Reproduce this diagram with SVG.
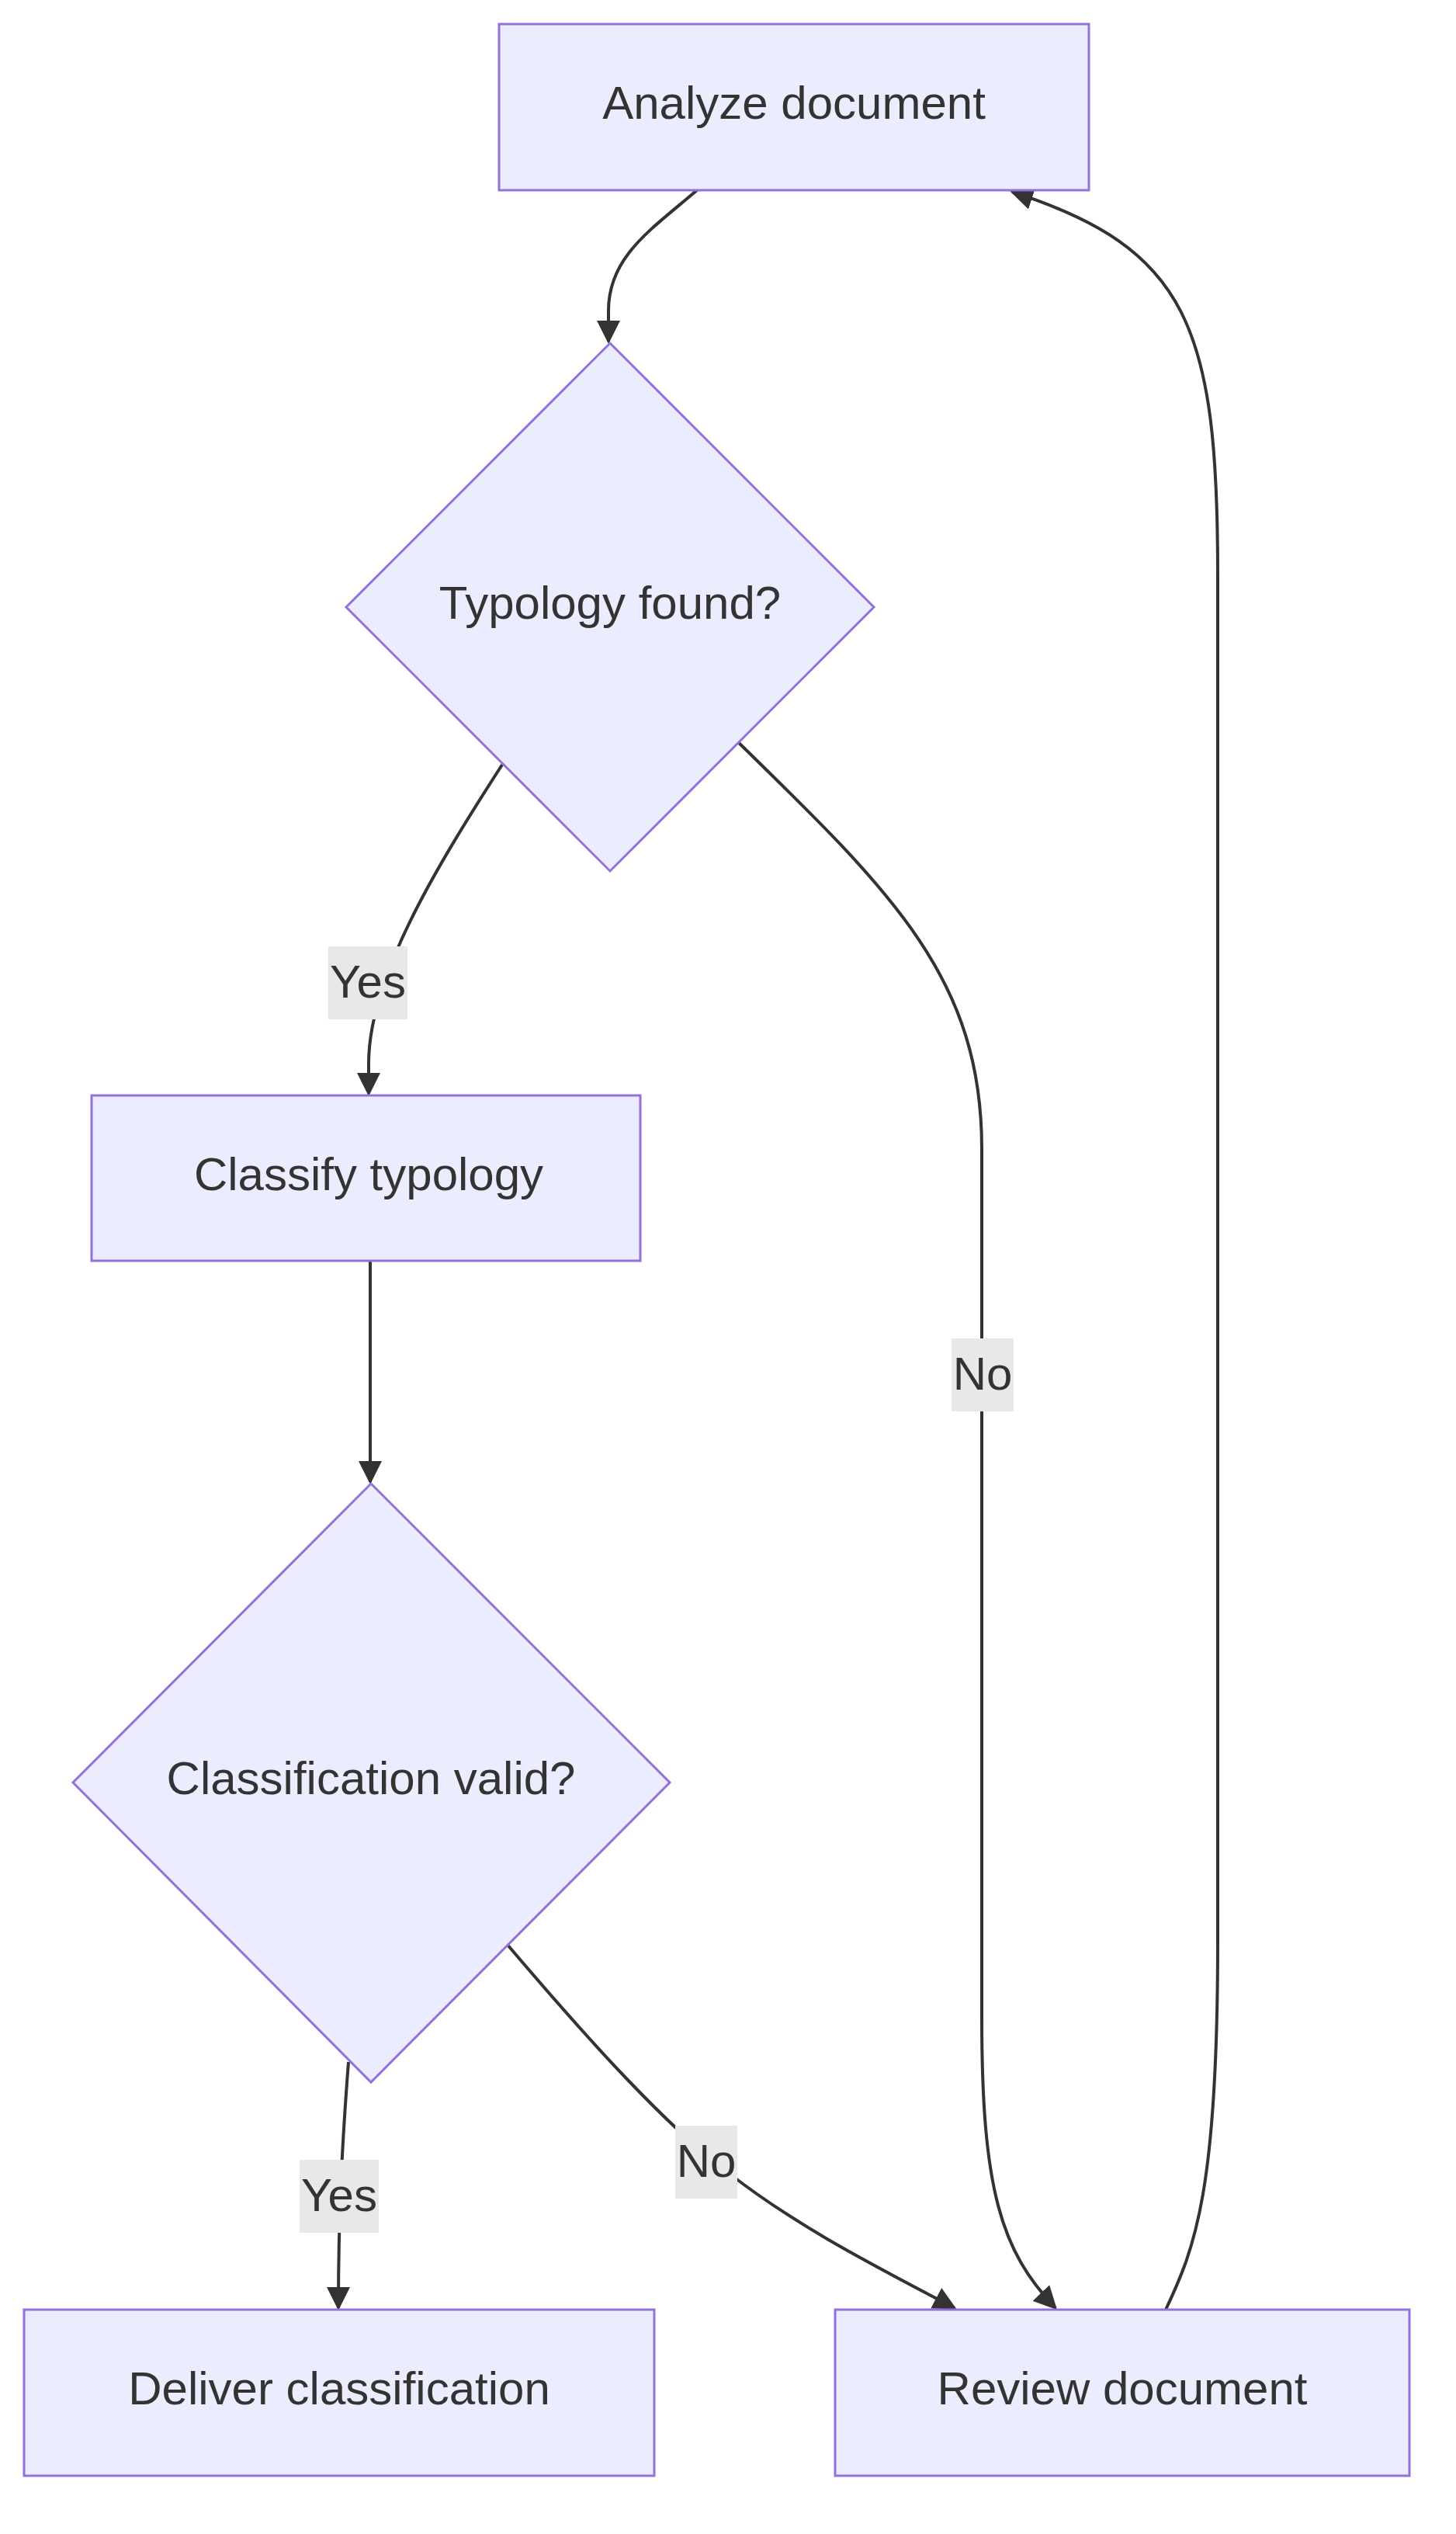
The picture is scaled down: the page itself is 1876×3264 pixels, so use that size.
<svg xmlns="http://www.w3.org/2000/svg" width="1876" height="3264" viewBox="0 0 1876 3264">
<style>
.node{fill:#ECECFF;stroke:#9370DB;stroke-width:3}
.lbl{font-family:"Liberation Sans",Arial,sans-serif;font-size:60px;fill:#333;text-anchor:middle;dominant-baseline:central}
.edge{fill:none;stroke:#333;stroke-width:4}
.elbg{fill:#e8e8e8}
</style>
<defs>
<marker id="arr" markerUnits="userSpaceOnUse" markerWidth="30" markerHeight="30" viewBox="0 0 10 10" refX="9" refY="5" orient="auto">
<path d="M0,0 L10,5 L0,10 z" fill="#333"/>
</marker>
</defs>
<g id="connectors">
<path class="edge" marker-end="url(#arr)" d="M898,245 C840,295 784,330 784,400 L784,440"/>
<path class="edge" marker-end="url(#arr)" d="M1502,2975 C1540,2895 1569,2820 1569,2500 L1569,740 C1569,420 1530,320 1304,247"/>
<path class="edge" marker-end="url(#arr)" d="M647,985 C560,1120 475,1260 475,1370 L475,1409"/>
<path class="edge" marker-end="url(#arr)" d="M947,952 C1150,1150 1265,1260 1265,1480 L1265,2600 C1265,2820 1290,2900 1360,2973"/>
<path class="edge" marker-end="url(#arr)" d="M477,1624 L477,1909"/>
<path class="edge" marker-end="url(#arr)" d="M449,2656 C441,2760 436,2850 436,2973"/>
<path class="edge" marker-end="url(#arr)" d="M653,2504 C760,2630 860,2740 940,2800 C1030,2870 1130,2920 1230,2973"/>
</g>
<g id="labels">
<rect class="elbg" x="423" y="1219" width="102" height="94"/><text class="lbl" x="474" y="1264">Yes</text>
<rect class="elbg" x="1226" y="1724" width="80" height="94"/><text class="lbl" x="1266" y="1769">No</text>
<rect class="elbg" x="386" y="2782" width="102" height="94"/><text class="lbl" x="437" y="2827">Yes</text>
<rect class="elbg" x="870" y="2738" width="80" height="94"/><text class="lbl" x="910" y="2783">No</text>
</g>
<g id="analyze"><rect class="node" x="643" y="31" width="760" height="214"/><text class="lbl" x="1023" y="132">Analyze document</text></g>
<g id="typology"><polygon class="node" points="786,442 1126,782 786,1122 446,782"/><text class="lbl" x="786" y="776">Typology found?</text></g>
<g id="classify"><rect class="node" x="118" y="1411" width="707" height="213"/><text class="lbl" x="475" y="1512">Classify typology</text></g>
<g id="valid"><polygon class="node" points="478,1911 863,2296 478,2682 94,2296"/><text class="lbl" x="478" y="2290">Classification valid?</text></g>
<g id="deliver"><rect class="node" x="31" y="2975" width="812" height="214"/><text class="lbl" x="437" y="3076">Deliver classification</text></g>
<g id="review"><rect class="node" x="1076" y="2975" width="740" height="214"/><text class="lbl" x="1446" y="3076">Review document</text></g>
</svg>
